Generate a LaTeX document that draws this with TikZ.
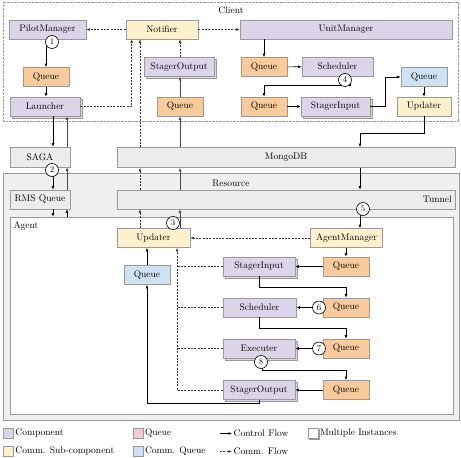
\documentclass[tikz,border=0pt]{standalone}
\usetikzlibrary{arrows.meta,shadows,calc}
\definecolor{compc}{HTML}{DCD5EA}
\definecolor{queuec}{HTML}{F8CB9C}
\definecolor{subc}{HTML}{FDF1CD}
\definecolor{cqc}{HTML}{CFE2F3}
\definecolor{legq}{HTML}{F4CCCC}
\definecolor{grayc}{HTML}{ECECEC}
\definecolor{resc}{HTML}{EFEFEF}
\definecolor{bordc}{HTML}{9A9A9A}
\begin{document}
\begin{tikzpicture}[x=1pt,y=-1pt,
  font=\fontsize{9.5}{11}\selectfont,
  base/.style={draw=bordc, line width=0.6pt, minimum height=19pt, inner sep=1pt},
  comp/.style={base, fill=compc},
  que/.style={base, fill=queuec, minimum width=46pt},
  sub/.style={base, fill=subc},
  cq/.style={base, fill=cqc, minimum width=46pt},
  gbox/.style={base, fill=grayc},
  multi/.style={copy shadow={shadow xshift=2pt, shadow yshift=-2pt, draw=bordc, fill=compc, line width=0.6pt}},
  flow/.style={-{Latex[length=3.5pt,width=2.8pt]}, line width=0.6pt, black},
  gflow/.style={flow, line width=1pt, draw=black!72},
  comm/.style={-{Latex[length=3.5pt,width=2.6pt]}, line width=0.5pt, black!80, dash pattern=on 2pt off 1.3pt},
  commline/.style={line width=0.5pt, black!80, dash pattern=on 2pt off 1.3pt},
  num/.style={circle, draw=black, fill=white, line width=0.6pt, inner sep=0pt, minimum size=13pt, font=\fontsize{8.5}{9}\selectfont},
  legsq/.style={draw=bordc, line width=0.6pt, minimum width=10pt, minimum height=10pt, inner sep=0pt},
  legtxt/.style={anchor=west, inner sep=1.5pt},
]
\useasboundingbox (0,0) rectangle (461,458);
\fill[white] (0,0) rectangle (461,458);

% containers
\node[draw=bordc, line width=0.5pt, dash pattern=on 0.7pt off 0.7pt, minimum width=455pt, minimum height=119pt, inner sep=0pt] (client) at (230.5,61.5) {};
\node (clientlbl) at (231,10) {Client};
\node[draw=bordc, fill=resc, line width=0.6pt, minimum width=456pt, minimum height=247pt, inner sep=0pt] (resource) at (231,296.5) {};
\node (reslbl) at (231,183) {Resource};
\node[draw=bordc, fill=white, line width=0.6pt, minimum width=443pt, minimum height=197pt, inner sep=0pt] (agent) at (231.5,315.5) {};
\node[anchor=west] (agentlbl) at (10,226) {Agent};

% client nodes
\node[comp, minimum width=77pt] (pm) at (47.5,29.5) {PilotManager};
\node[sub, minimum width=72pt] (notif) at (162,29.5) {Notifier};
\node[comp, minimum width=212pt] (um) at (346,29.5) {UnitManager};
\node[que] (q1) at (46,77) {Queue};
\node[comp, multi, minimum width=70pt] (launch) at (45,106.5) {Launcher};
\node[comp, multi, minimum width=70pt] (so1) at (179,67) {StagerOutput};
\node[que] (q2) at (180,106.5) {Queue};
\node[que] (q3) at (264,67) {Queue};
\node[comp, minimum width=71pt] (sch1) at (337.5,66.5) {Scheduler};
\node[que] (q4) at (264,106.5) {Queue};
\node[comp, multi, minimum width=69pt] (si1) at (335.5,106.5) {StagerInput};
\node[cq] (cq1) at (424,77) {Queue};
\node[sub, minimum width=54pt] (upd1) at (424,106.5) {Updater};

% middle
\node[gbox, minimum width=60pt, minimum height=20pt] (saga) at (40,157) {SAGA};
\node[gbox, minimum width=338pt, minimum height=20pt] (mongo) at (286,157.5) {MongoDB};
\node[gbox, minimum width=60pt] (rms) at (40,199.5) {RMS Queue};
\node[gbox, minimum width=338pt] (tunnel) at (286,199.5) {};
\node[anchor=east] (tunnellbl) at (tunnel.east) {Tunnel};

% agent nodes
\node[sub, minimum width=73pt] (upd2) at (153.5,238) {Updater};
\node[sub, minimum width=72pt] (am) at (346.5,238) {AgentManager};
\node[cq] (cq2) at (147,275) {Queue};
\node[comp, multi, minimum width=72pt] (si2) at (259,266.5) {StagerInput};
\node[que] (aq1) at (346,266.5) {Queue};
\node[comp, minimum width=73pt] (sch2) at (259.5,307.5) {Scheduler};
\node[que] (aq2) at (346,307.5) {Queue};
\node[comp, multi, minimum width=72pt] (exe) at (259,348.5) {Executer};
\node[que] (aq3) at (346,348.5) {Queue};
\node[comp, multi, minimum width=72pt] (so2) at (259,390) {StagerOutput};
\node[que] (aq4) at (346,390) {Queue};

% helper x positions
\coordinate (xa) at (140,0);
\coordinate (xb) at (180,0);
\coordinate (xd) at (360,0);
\coordinate (xe) at (177,0);
\coordinate (xL) at (53,0);
\coordinate (xR) at (67,0);

% client connectors
\draw[comm] (notif) -- (pm);
\draw[comm] (notif) -- (um);
\draw[flow] (q1.north |- pm.south) -- (q1.north);
\draw[flow] (q1.south) -- (q1.south |- launch.north);
\draw[comm] (launch.east) -| ($(notif.south west)+(6,0)$);
\draw[comm] (mongo.north -| xa) -- (notif.south -| xa);
\draw[comm] (so1.north -| xb) -- (notif.south -| xb);
\draw[gflow] (q2.north -| xb) -- (so1.south -| xb);
\draw[gflow] (mongo.north -| xb) -- (q2.south -| xb);
\draw[flow] (um.south -| q3.north) -- (q3.north);
\draw[flow] (q3) -- (sch1);
\draw[flow] ($(sch1.south)+(12.5,0)$) |- ($(q4.north)+(0,-11)$) -- (q4.north);
\draw[flow] (q4) -- (si1);
\draw[flow] (si1.east) -- ++(15,0) |- (cq1.west);
\draw[flow] (cq1) -- (upd1);
\draw[flow] (upd1.south) -- ++(0,17) -| (mongo.north -| xd);

% through mongo / tunnel
\draw[flow] (mongo.south -| xd) -- (tunnel.north -| xd);
\draw[flow] (tunnel.south -| xd) -- (am.north -| xd);
\draw[comm] (tunnel.north -| xa) -- (mongo.south -| xa);
\draw[comm] (upd2.north -| xa) -- (tunnel.south -| xa);
\draw[gflow] (tunnel.north -| xb) -- (mongo.south -| xb);
\draw[gflow] (upd2.north -| xb) -- (tunnel.south -| xb);

% SAGA side
\draw[flow] (launch.south -| xL) -- (saga.north -| xL);
\draw[gflow] (saga.north -| xR) -- (launch.south -| xR);
\draw[flow] (saga.south -| xL) -- (rms.north -| xL);
\draw[gflow] (rms.north -| xR) -- (saga.south -| xR);
\draw[flow] (rms.south -| xL) -- (agent.north -| xL);
\draw[flow] (agent.north -| xR) -- (rms.south -| xR);

% agent connectors
\draw[comm] (am) -- (upd2);
\draw[flow] (am.south -| aq1.north) -- (aq1.north);
\draw[flow] (aq1) -- (si2);
\draw[flow] (si2.south) -- ++(0,11) -| (aq2.north);
\draw[flow] (aq2) -- (sch2);
\draw[flow] (sch2.south) -- ++(0,11) -| (aq3.north);
\draw[flow] (aq3) -- (exe);
\draw[flow] ($(exe.south)+(3,0)$) -- ++(0,12) -| (aq4.north);
\draw[flow] (aq4) -- (so2);
\draw[flow] (so2.south) -- ++(0,3.5) -| (cq2.south);
\draw[flow] (cq2.north) -- (cq2.north |- upd2.south);
\draw[comm] (so2.west) -| (upd2.south -| xe);
\draw[commline] (si2.west) -- (si2.west -| xe);
\draw[commline] (sch2.west) -- (sch2.west -| xe);
\draw[commline] (exe.west) -- (exe.west -| xe);

% numbered circles
\node[num] (n1) at (52,42) {1};
\node[num] (n2) at (52,170) {2};
\node[num] (n3) at (173,223) {3};
\node[num] (n4) at (345,80) {4};
\node[num] (n5) at (363,209) {5};
\node[num] (n6) at (319,307.5) {6};
\node[num] (n7) at (319,348.5) {7};
\node[num] (n8) at (261,362) {8};

% legend
\node[legsq, fill=compc] (l1) at (8.5,433.5) {};
\node[legtxt] (l1t) at (l1.east) {Component};
\node[legsq, fill=legq] (l2) at (138,433.5) {};
\node[legtxt] (l2t) at (l2.east) {Queue};
\coordinate (a1) at (220,433.5);
\coordinate (a1e) at (232,433.5);
\draw[flow] (a1) -- (a1e);
\node[legtxt] (l3t) at (a1e) {Control Flow};
\node[legsq, fill=white, copy shadow={shadow xshift=1.2pt, shadow yshift=-1.2pt, draw=bordc, fill=bordc!60}] (l4) at (313,433.5) {};
\node[legtxt] (l4t) at (l4.east) {Multiple Instances};
\node[legsq, fill=subc] (l5) at (8.5,451.5) {};
\node[legtxt] (l5t) at (l5.east) {Comm. Sub-component};
\node[legsq, fill=cqc] (l6) at (138,451.5) {};
\node[legtxt] (l6t) at (l6.east) {Comm. Queue};
\coordinate (a2) at (220,451.5);
\coordinate (a2e) at (232,451.5);
\draw[comm] (a2) -- (a2e);
\node[legtxt] (l7t) at (a2e) {Comm. Flow};
\end{tikzpicture}
\end{document}
